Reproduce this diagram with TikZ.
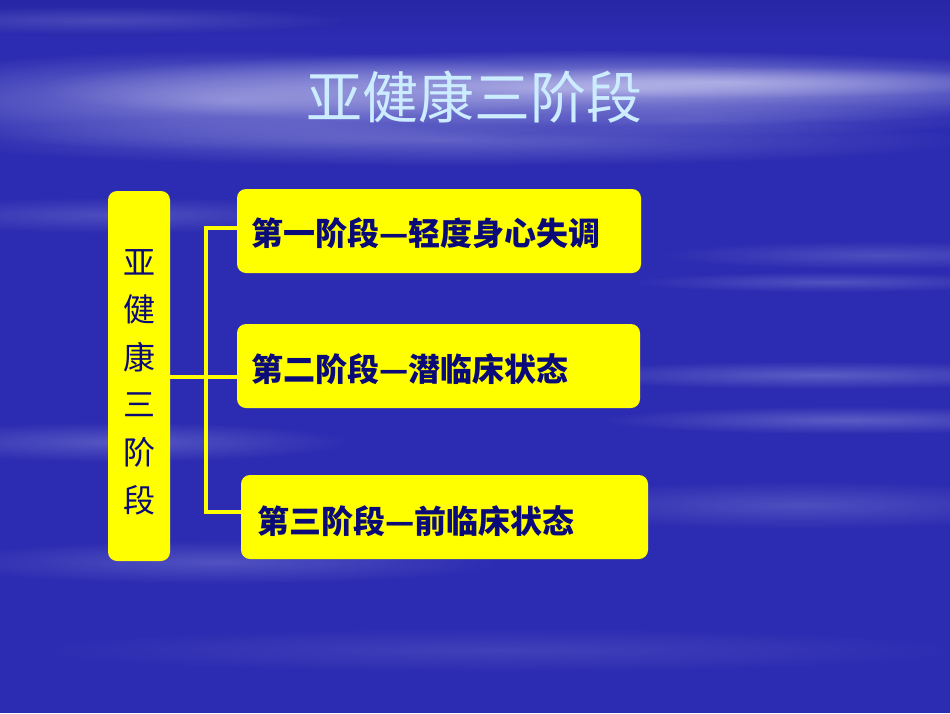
\documentclass[tikz,border=0pt]{standalone}
\usepackage{fontspec}
\newfontfamily\cjk{Noto Sans CJK SC}
\usetikzlibrary{fadings}
\tikzfading[name=softedge, inner color=transparent!0, outer color=transparent!100]
\definecolor{bgblue}{RGB}{44,44,178}
\definecolor{bgdark}{RGB}{40,38,165}
\definecolor{streak}{RGB}{215,215,245}
\definecolor{titlecol}{RGB}{204,236,255}
\definecolor{navy}{RGB}{10,10,120}
\definecolor{boxyellow}{RGB}{255,255,0}
\tikzset{
  stagebox/.style={fill=boxyellow, rounded corners=9pt, draw=none},
  stagetext/.style={font=\cjk\bfseries\fontsize{32}{36}\selectfont, text=navy, anchor=west},
  link/.style={draw=boxyellow, line width=3.2pt},
  streakfx/.style={fill=streak, path fading=softedge}
}
\begin{document}
\begin{tikzpicture}[x=1pt,y=-1pt]
\useasboundingbox (0,0) rectangle (950,713);
% background
\fill[bgblue] (0,0) rectangle (950,713);
\shade[top color=bgdark, bottom color=bgblue] (0,0) rectangle (950,40);
\fill[streakfx, opacity=0.7] (600,88) ellipse (560 and 38);
\fill[streakfx, opacity=0.5] (230,100) ellipse (400 and 50);
\fill[streakfx, opacity=0.5] (720,82) ellipse (320 and 16);
\fill[streakfx, opacity=0.3] (450,140) ellipse (520 and 26);
\fill[streakfx, opacity=0.2] (120,215) ellipse (240 and 18);
\fill[streakfx, opacity=0.2] (700,120) ellipse (300 and 16);
\fill[streakfx, opacity=0.18] (100,20) ellipse (250 and 14);
\fill[streakfx, opacity=0.2] (880,255) ellipse (220 and 14);
\fill[streakfx, opacity=0.22] (830,282) ellipse (200 and 10);
\fill[streakfx, opacity=0.25] (120,442) ellipse (230 and 20);
\fill[streakfx, opacity=0.28] (820,375) ellipse (270 and 14);
\fill[streakfx, opacity=0.28] (850,420) ellipse (250 and 14);
\fill[streakfx, opacity=0.22] (220,562) ellipse (280 and 22);
\fill[streakfx, opacity=0.2] (800,505) ellipse (280 and 24);
\fill[streakfx, opacity=0.12] (500,650) ellipse (470 and 22);
% title
\node[font=\cjk\fontsize{56}{64}\selectfont, text=titlecol] (title) at (474,97) {亚健康三阶段};
% left box
\fill[stagebox] (108,191) rectangle (170,561);
\node[font=\cjk\fontsize{32}{47.6}\selectfont, text=navy, align=center, inner sep=0pt] (main) at (139,382) {亚\\健\\康\\三\\阶\\段};
\coordinate (mainR) at (170,377);
% stage boxes
\fill[stagebox] (237,189) rectangle (641,273);
\fill[stagebox] (237,324) rectangle (640,408);
\fill[stagebox] (241,475) rectangle (648,559);
\node[stagetext, inner sep=0pt] (s1) at (251,233) {第一阶段—轻度身心失调};
\node[stagetext, inner sep=0pt] (s2) at (251,369) {第二阶段—潜临床状态};
\node[stagetext, inner sep=0pt] (s3) at (257,521) {第三阶段—前临床状态};
\coordinate (b1) at (237,228);
\coordinate (b2) at (237,377);
\coordinate (b3) at (241,512);
\coordinate (spine) at (206,377);
% connectors
\draw[link] (mainR) -- (spine);
\draw[link] (b1) -| (spine) |- (b3);
\draw[link] (spine) -- (b2);
\end{tikzpicture}
\end{document}
